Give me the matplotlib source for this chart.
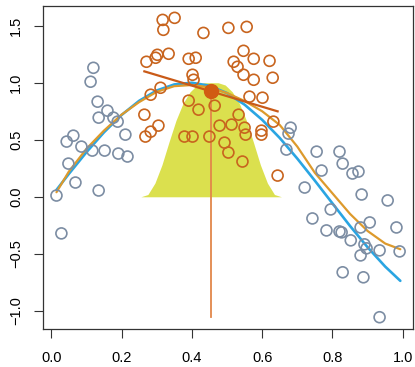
import matplotlib
matplotlib.use("Agg")
import matplotlib.pyplot as plt
import numpy as np

plt.rcParams['font.family'] = ['Liberation Sans', 'DejaVu Sans']

# ---- data ----
pt_x = [0.015, 0.029, 0.069, 0.135, 0.044, 0.063, 0.086, 0.049, 0.120, 0.112,
        0.132, 0.160, 0.135, 0.177, 0.189, 0.211, 0.117, 0.152, 0.191, 0.217,
        0.681, 0.675, 0.669, 0.755, 0.820, 0.829, 0.769, 0.857, 0.874, 0.721,
        0.883, 0.957, 0.795, 0.743, 0.906, 0.880, 0.982, 0.783, 0.820, 0.826,
        0.852, 0.891, 0.897, 0.934, 0.991, 0.880, 0.829, 0.888, 0.934,
        0.271, 0.297, 0.302, 0.334, 0.317, 0.319, 0.351, 0.433, 0.391, 0.411,
        0.402, 0.405, 0.283, 0.311, 0.391, 0.419, 0.265, 0.305, 0.283, 0.268,
        0.379, 0.402, 0.450, 0.465, 0.504, 0.556, 0.547, 0.576, 0.621, 0.519,
        0.530, 0.547, 0.576, 0.630, 0.564, 0.601, 0.533, 0.632, 0.479, 0.513,
        0.550, 0.553, 0.598, 0.598, 0.493, 0.504, 0.544, 0.644]
pt_y = [0.011, -0.321, 0.125, 0.055, 0.484, 0.536, 0.440, 0.291, 1.131, 1.009,
        0.834, 0.755, 0.694, 0.694, 0.659, 0.545, 0.405, 0.405, 0.379, 0.353,
        0.606, 0.554, 0.414, 0.396, 0.396, 0.291, 0.230, 0.204, 0.221, 0.081,
        0.020, -0.032, -0.111, -0.190, -0.225, -0.269, -0.269, -0.295, -0.304, -0.312,
        -0.382, -0.417, -0.452, -0.470, -0.479, -0.514, -0.662, -0.706, -1.056,
        1.184, 1.219, 1.245, 1.254, 1.551, 1.464, 1.569, 1.437, 1.210, 1.219,
        1.070, 1.026, 0.895, 0.956, 0.843, 0.764, 0.720, 0.624, 0.571, 0.528,
        0.528, 0.528, 0.528, 0.799, 1.481, 1.490, 1.280, 1.210, 1.192, 1.184,
        1.140, 1.070, 1.026, 1.044, 0.878, 0.869, 0.720, 0.659, 0.624, 0.633,
        0.606, 0.545, 0.580, 0.545, 0.475, 0.388, 0.309, 0.186]

# true curve (blue)
true_x = [0.015, 0.05, 0.10, 0.15, 0.20, 0.25, 0.30, 0.35, 0.40, 0.45, 0.50,
          0.55, 0.60, 0.65, 0.70, 0.75, 0.80, 0.85, 0.90, 0.95, 0.993]
true_y = [0.06, 0.20, 0.39, 0.565, 0.717, 0.841, 0.932, 0.985, 1.00, 0.974, 0.909,
          0.808, 0.675, 0.516, 0.335, 0.141, -0.058, -0.256, -0.443, -0.612, -0.737]

# loess fit (gold)
fit_x = [0.015, 0.05, 0.10, 0.15, 0.20, 0.25, 0.30, 0.35, 0.40, 0.45, 0.50,
         0.55, 0.60, 0.65, 0.70, 0.75, 0.80, 0.85, 0.90, 0.95, 0.993]
fit_y = [0.04, 0.22, 0.42, 0.58, 0.72, 0.83, 0.92, 0.97, 0.98, 0.96, 0.91,
         0.84, 0.75, 0.63, 0.44, 0.21, 0.03, -0.15, -0.30, -0.41, -0.46]

# local window
x0 = 0.455
span = 0.2
local_value = 0.924
local_slope = -0.925

kern_x = [0.255, 0.275, 0.295, 0.315, 0.335, 0.355, 0.375, 0.395, 0.415, 0.435, 0.455,
          0.475, 0.495, 0.515, 0.535, 0.555, 0.575, 0.595, 0.615, 0.635, 0.655]
kern_h = [0.0, 0.02, 0.12, 0.28, 0.48, 0.67, 0.82, 0.92, 0.98, 1.0, 1.0,
          1.0, 0.98, 0.92, 0.82, 0.67, 0.48, 0.28, 0.12, 0.02, 0.0]

xticks = [0.0, 0.2, 0.4, 0.6, 0.8, 1.0]
yticks = [-1.0, -0.5, 0.0, 0.5, 1.0, 1.5]

# ---- plot ----
px = np.array(pt_x)
py = np.array(pt_y)
inside = np.abs(px - x0) <= span

fig = plt.figure(figsize=(4.15, 3.67), dpi=100)
ax = fig.add_axes([0.103, 0.103, 0.893, 0.881])

ax.fill_between(kern_x, 0, kern_h, color='#dbe04e', lw=0, zorder=1)
ax.plot([x0, x0], [py.min(), local_value], color='#e2874a', lw=1.3, zorder=2)
ax.plot(true_x, true_y, color='#2aa5e2', lw=1.9, zorder=3, solid_capstyle='round')
ax.plot(fit_x, fit_y, color='#dd9a2c', lw=1.6, zorder=3.5, solid_capstyle='round')
ax.scatter(px[~inside], py[~inside], s=62, facecolors='none', edgecolors='#7c8da3',
           linewidths=1.2, zorder=4)
ax.scatter(px[inside], py[inside], s=62, facecolors='none', edgecolors='#c8641e',
           linewidths=1.2, zorder=4)
lx = np.array([px[inside].min(), px[inside].max()])
ax.plot(lx, local_value + local_slope * (lx - x0), color='#c95a18', lw=1.6, zorder=5)
ax.plot([x0], [local_value], 'o', color='#d15c12', ms=10, zorder=6)

xr = px.max() - px.min()
yr = py.max() - py.min()
ax.set_xlim(px.min() - 0.04 * xr, px.max() + 0.04 * xr)
ax.set_ylim(py.min() - 0.04 * yr, py.max() + 0.04 * yr)

ax.set_xticks(xticks)
ax.set_xticklabels([f"{v:.1f}" for v in xticks])
ax.set_yticks(yticks)
ax.set_yticklabels([f"{v:.1f}".replace('-', '\u2212') for v in yticks])
plt.setp(ax.get_yticklabels(), rotation=90, va='center')
ax.tick_params(direction='out', length=6.5, width=0.8, color='#333333',
               labelsize=10.5)
ax.tick_params(axis='x', pad=9.5)
ax.tick_params(axis='y', pad=7.5)
for s in ax.spines.values():
    s.set_color('#333333')
    s.set_linewidth(0.9)

fig.savefig('out.png', dpi=100)
